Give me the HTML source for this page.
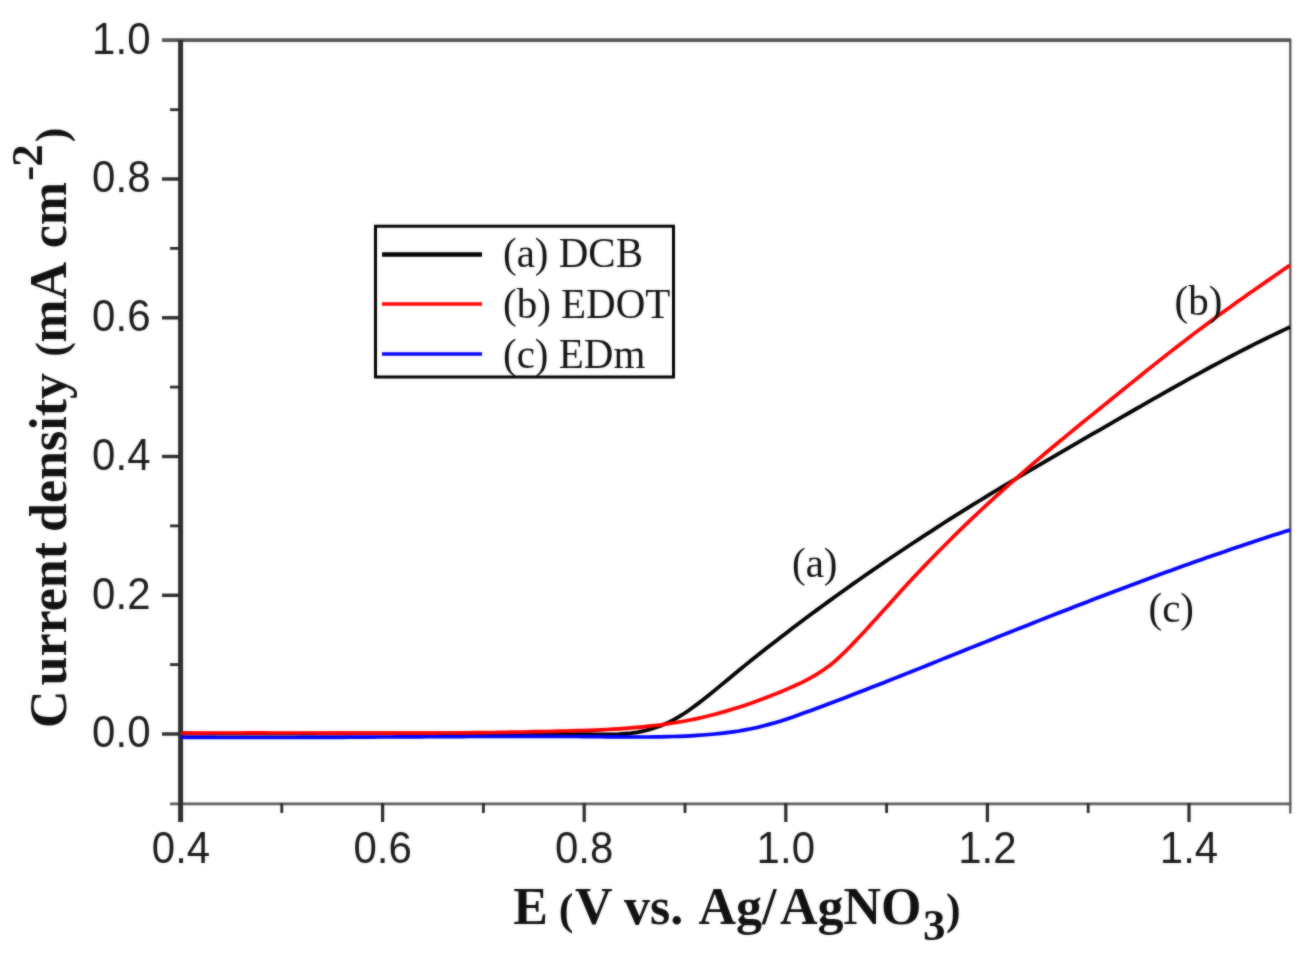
<!DOCTYPE html>
<html lang="en"><head><meta charset="utf-8"><title>Linear sweep voltammetry</title>
<style>
html,body{margin:0;padding:0;background:#fff;}
body{width:1310px;height:956px;overflow:hidden;}
svg{display:block;}
.tick{font-family:"Liberation Sans",Arial,sans-serif;font-size:42px;fill:#1a1a1a;}
.ser{font-family:"Liberation Serif","Times New Roman",serif;font-size:41px;fill:#111;}
.ax{font-family:"Liberation Serif","Times New Roman",serif;font-weight:bold;font-size:52px;fill:#111;}
</style></head><body>
<svg width="1310" height="956" viewBox="0 0 1310 956">
<defs><filter id="soft" x="0" y="0" width="1310" height="956" filterUnits="userSpaceOnUse" color-interpolation-filters="sRGB"><feGaussianBlur stdDeviation="0.9" result="b"/><feComposite in="SourceGraphic" in2="b" operator="arithmetic" k1="0" k2="0.5" k3="0.5" k4="0"/></filter></defs>
<g filter="url(#soft)">
<rect width="1310" height="956" fill="#fff"/>

<g stroke-linecap="butt" fill="none">
<line x1="162" y1="40.2" x2="1291" y2="40.2" stroke="#555" stroke-width="3.8"/>
<line x1="1290.3" y1="39" x2="1290.3" y2="813.5" stroke="#555" stroke-width="2.3"/>
<line x1="170" y1="803.8" x2="1291.4" y2="803.8" stroke="#5c5c5c" stroke-width="2.8"/>
<line x1="180.6" y1="40" x2="180.6" y2="822" stroke="#2e2e2e" stroke-width="5"/>
<line x1="162" y1="734.0" x2="180" y2="734.0" stroke="#2a2a2a" stroke-width="3.4"/>
<line x1="162" y1="595.3" x2="180" y2="595.3" stroke="#2a2a2a" stroke-width="3.4"/>
<line x1="162" y1="456.5" x2="180" y2="456.5" stroke="#2a2a2a" stroke-width="3.4"/>
<line x1="162" y1="317.8" x2="180" y2="317.8" stroke="#2a2a2a" stroke-width="3.4"/>
<line x1="162" y1="179.0" x2="180" y2="179.0" stroke="#2a2a2a" stroke-width="3.4"/>
<line x1="170" y1="664.6" x2="180" y2="664.6" stroke="#2a2a2a" stroke-width="2.8"/>
<line x1="170" y1="525.9" x2="180" y2="525.9" stroke="#2a2a2a" stroke-width="2.8"/>
<line x1="170" y1="387.1" x2="180" y2="387.1" stroke="#2a2a2a" stroke-width="2.8"/>
<line x1="170" y1="248.4" x2="180" y2="248.4" stroke="#2a2a2a" stroke-width="2.8"/>
<line x1="170" y1="109.7" x2="180" y2="109.7" stroke="#2a2a2a" stroke-width="2.8"/>
<line x1="382.6" y1="803" x2="382.6" y2="822" stroke="#2a2a2a" stroke-width="3.2"/>
<line x1="584.2" y1="803" x2="584.2" y2="822" stroke="#2a2a2a" stroke-width="3.2"/>
<line x1="785.8" y1="803" x2="785.8" y2="822" stroke="#2a2a2a" stroke-width="3.2"/>
<line x1="987.4" y1="803" x2="987.4" y2="822" stroke="#2a2a2a" stroke-width="3.2"/>
<line x1="1189.0" y1="803" x2="1189.0" y2="822" stroke="#2a2a2a" stroke-width="3.2"/>
<line x1="281.8" y1="803" x2="281.8" y2="813" stroke="#2a2a2a" stroke-width="2.8"/>
<line x1="483.4" y1="803" x2="483.4" y2="813" stroke="#2a2a2a" stroke-width="2.8"/>
<line x1="685.0" y1="803" x2="685.0" y2="813" stroke="#2a2a2a" stroke-width="2.8"/>
<line x1="886.6" y1="803" x2="886.6" y2="813" stroke="#2a2a2a" stroke-width="2.8"/>
<line x1="1088.2" y1="803" x2="1088.2" y2="813" stroke="#2a2a2a" stroke-width="2.8"/>
</g>
<g fill="none" stroke-linejoin="round" stroke-linecap="butt">
<path d="M181.0,733.5 L187.0,733.5 L193.0,733.6 L199.0,733.6 L205.0,733.6 L211.0,733.6 L217.0,733.7 L223.0,733.7 L229.0,733.7 L235.0,733.7 L241.0,733.7 L247.0,733.7 L253.0,733.7 L259.0,733.7 L265.0,733.7 L271.0,733.7 L277.0,733.7 L283.0,733.7 L289.0,733.7 L295.0,733.6 L301.0,733.6 L307.0,733.6 L313.0,733.6 L319.0,733.6 L325.0,733.6 L331.0,733.5 L337.0,733.5 L343.0,733.5 L349.0,733.5 L355.0,733.4 L361.0,733.4 L367.0,733.4 L373.0,733.4 L379.0,733.4 L385.0,733.4 L391.0,733.3 L397.0,733.3 L403.0,733.3 L409.0,733.3 L415.0,733.3 L421.0,733.3 L427.0,733.3 L433.0,733.3 L439.0,733.3 L445.0,733.3 L451.0,733.3 L457.0,733.3 L463.0,733.3 L469.0,733.3 L475.0,733.3 L481.0,733.4 L487.0,733.4 L493.0,733.4 L499.0,733.4 L505.0,733.5 L511.0,733.5 L517.0,733.6 L523.0,733.6 L529.0,733.7 L535.0,733.7 L541.0,733.8 L547.0,733.8 L553.0,733.9 L559.0,734.0 L565.0,734.0 L571.0,734.1 L577.0,734.1 L583.0,734.2 L589.0,734.2 L595.0,734.3 L601.0,734.3 L607.0,734.3 L613.0,734.3 L619.0,734.1 L625.0,733.7 L631.0,733.2 L637.0,732.3 L643.0,731.1 L649.0,729.7 L655.0,727.8 L661.0,725.7 L667.0,723.1 L673.0,720.1 L679.0,716.7 L685.0,713.0 L691.0,708.8 L697.0,704.4 L703.0,699.8 L709.0,695.0 L715.0,690.1 L721.0,685.1 L727.0,680.2 L733.0,675.2 L739.0,670.3 L745.0,665.4 L751.0,660.6 L757.0,655.8 L763.0,651.1 L769.0,646.3 L775.0,641.7 L781.0,637.0 L787.0,632.4 L793.0,627.8 L799.0,623.3 L805.0,618.8 L811.0,614.3 L817.0,609.9 L823.0,605.5 L829.0,601.1 L835.0,596.8 L841.0,592.5 L847.0,588.2 L853.0,583.9 L859.0,579.7 L865.0,575.5 L871.0,571.4 L877.0,567.2 L883.0,563.1 L889.0,559.0 L895.0,555.0 L901.0,551.0 L907.0,547.0 L913.0,543.0 L919.0,539.1 L925.0,535.2 L931.0,531.3 L937.0,527.4 L943.0,523.5 L949.0,519.7 L955.0,515.9 L961.0,512.2 L967.0,508.4 L973.0,504.7 L979.0,501.0 L985.0,497.3 L991.0,493.7 L997.0,490.0 L1003.0,486.4 L1009.0,482.8 L1015.0,479.3 L1021.0,475.7 L1027.0,472.1 L1033.0,468.6 L1039.0,465.1 L1045.0,461.6 L1051.0,458.1 L1057.0,454.6 L1063.0,451.1 L1069.0,447.6 L1075.0,444.2 L1081.0,440.7 L1087.0,437.2 L1093.0,433.7 L1099.0,430.3 L1105.0,426.8 L1111.0,423.3 L1117.0,419.9 L1123.0,416.4 L1129.0,413.0 L1135.0,409.5 L1141.0,406.1 L1147.0,402.6 L1153.0,399.2 L1159.0,395.8 L1165.0,392.4 L1171.0,389.0 L1177.0,385.6 L1183.0,382.3 L1189.0,378.9 L1195.0,375.6 L1201.0,372.3 L1207.0,369.0 L1213.0,365.8 L1219.0,362.6 L1225.0,359.4 L1231.0,356.2 L1237.0,353.1 L1243.0,350.0 L1249.0,347.0 L1255.0,343.9 L1261.0,341.0 L1267.0,338.0 L1273.0,335.1 L1279.0,332.2 L1285.0,329.4 L1290.0,327.1" stroke="#000" stroke-width="3.8"/>
<path d="M181.0,737.2 L187.0,737.3 L193.0,737.3 L199.0,737.4 L205.0,737.4 L211.0,737.4 L217.0,737.5 L223.0,737.5 L229.0,737.5 L235.0,737.5 L241.0,737.5 L247.0,737.5 L253.0,737.5 L259.0,737.5 L265.0,737.5 L271.0,737.5 L277.0,737.5 L283.0,737.5 L289.0,737.5 L295.0,737.5 L301.0,737.4 L307.0,737.4 L313.0,737.4 L319.0,737.4 L325.0,737.3 L331.0,737.3 L337.0,737.3 L343.0,737.3 L349.0,737.2 L355.0,737.2 L361.0,737.2 L367.0,737.1 L373.0,737.1 L379.0,737.0 L385.0,737.0 L391.0,737.0 L397.0,736.9 L403.0,736.9 L409.0,736.9 L415.0,736.8 L421.0,736.8 L427.0,736.7 L433.0,736.7 L439.0,736.7 L445.0,736.6 L451.0,736.6 L457.0,736.6 L463.0,736.6 L469.0,736.5 L475.0,736.5 L481.0,736.5 L487.0,736.5 L493.0,736.4 L499.0,736.4 L505.0,736.4 L511.0,736.4 L517.0,736.4 L523.0,736.4 L529.0,736.4 L535.0,736.4 L541.0,736.4 L547.0,736.4 L553.0,736.4 L559.0,736.5 L565.0,736.5 L571.0,736.5 L577.0,736.5 L583.0,736.6 L589.0,736.6 L595.0,736.7 L601.0,736.7 L607.0,736.8 L613.0,736.8 L619.0,736.9 L625.0,736.9 L631.0,737.0 L637.0,737.0 L643.0,737.0 L649.0,737.0 L655.0,736.9 L661.0,736.8 L667.0,736.7 L673.0,736.5 L679.0,736.3 L685.0,736.1 L691.0,735.8 L697.0,735.4 L703.0,735.0 L709.0,734.5 L715.0,734.0 L721.0,733.4 L727.0,732.7 L733.0,731.9 L739.0,731.0 L745.0,729.9 L751.0,728.8 L757.0,727.5 L763.0,726.0 L769.0,724.4 L775.0,722.7 L781.0,720.9 L787.0,718.9 L793.0,716.9 L799.0,714.8 L805.0,712.6 L811.0,710.4 L817.0,708.2 L823.0,706.0 L829.0,703.7 L835.0,701.5 L841.0,699.2 L847.0,696.9 L853.0,694.6 L859.0,692.2 L865.0,689.9 L871.0,687.6 L877.0,685.2 L883.0,682.9 L889.0,680.5 L895.0,678.1 L901.0,675.8 L907.0,673.4 L913.0,671.0 L919.0,668.6 L925.0,666.2 L931.0,663.8 L937.0,661.4 L943.0,658.9 L949.0,656.5 L955.0,654.1 L961.0,651.7 L967.0,649.3 L973.0,646.9 L979.0,644.5 L985.0,642.1 L991.0,639.7 L997.0,637.3 L1003.0,634.9 L1009.0,632.5 L1015.0,630.1 L1021.0,627.7 L1027.0,625.4 L1033.0,623.0 L1039.0,620.6 L1045.0,618.3 L1051.0,615.9 L1057.0,613.6 L1063.0,611.2 L1069.0,608.9 L1075.0,606.6 L1081.0,604.2 L1087.0,601.9 L1093.0,599.6 L1099.0,597.3 L1105.0,595.0 L1111.0,592.7 L1117.0,590.5 L1123.0,588.2 L1129.0,586.0 L1135.0,583.7 L1141.0,581.5 L1147.0,579.2 L1153.0,577.0 L1159.0,574.8 L1165.0,572.6 L1171.0,570.5 L1177.0,568.3 L1183.0,566.1 L1189.0,564.0 L1195.0,561.8 L1201.0,559.7 L1207.0,557.6 L1213.0,555.5 L1219.0,553.4 L1225.0,551.4 L1231.0,549.3 L1237.0,547.3 L1243.0,545.2 L1249.0,543.2 L1255.0,541.2 L1261.0,539.2 L1267.0,537.3 L1273.0,535.3 L1279.0,533.4 L1285.0,531.5 L1290.0,529.9" stroke="#0000ff" stroke-width="3.7"/>
<path d="M181.0,733.2 L187.0,733.2 L193.0,733.1 L199.0,733.1 L205.0,733.1 L211.0,733.0 L217.0,733.0 L223.0,733.0 L229.0,733.0 L235.0,733.0 L241.0,733.0 L247.0,732.9 L253.0,732.9 L259.0,732.9 L265.0,732.9 L271.0,733.0 L277.0,733.0 L283.0,733.0 L289.0,733.0 L295.0,733.0 L301.0,733.0 L307.0,733.0 L313.0,733.0 L319.0,733.1 L325.0,733.1 L331.0,733.1 L337.0,733.1 L343.0,733.1 L349.0,733.1 L355.0,733.1 L361.0,733.1 L367.0,733.2 L373.0,733.2 L379.0,733.2 L385.0,733.2 L391.0,733.2 L397.0,733.2 L403.0,733.2 L409.0,733.1 L415.0,733.1 L421.0,733.1 L427.0,733.1 L433.0,733.1 L439.0,733.0 L445.0,733.0 L451.0,733.0 L457.0,732.9 L463.0,732.9 L469.0,732.8 L475.0,732.7 L481.0,732.7 L487.0,732.6 L493.0,732.5 L499.0,732.4 L505.0,732.3 L511.0,732.2 L517.0,732.1 L523.0,732.0 L529.0,731.9 L535.0,731.7 L541.0,731.6 L547.0,731.5 L553.0,731.3 L559.0,731.2 L565.0,731.0 L571.0,730.9 L577.0,730.7 L583.0,730.5 L589.0,730.3 L595.0,730.1 L601.0,729.8 L607.0,729.5 L613.0,729.2 L619.0,728.8 L625.0,728.4 L631.0,727.9 L637.0,727.4 L643.0,726.8 L649.0,726.2 L655.0,725.5 L661.0,724.8 L667.0,723.9 L673.0,723.0 L679.0,722.0 L685.0,721.0 L691.0,719.8 L697.0,718.6 L703.0,717.2 L709.0,715.8 L715.0,714.2 L721.0,712.6 L727.0,710.9 L733.0,709.1 L739.0,707.2 L745.0,705.2 L751.0,703.2 L757.0,701.0 L763.0,698.8 L769.0,696.5 L775.0,694.1 L781.0,691.7 L787.0,689.1 L793.0,686.5 L799.0,683.8 L805.0,680.8 L811.0,677.6 L817.0,674.1 L823.0,670.3 L829.0,666.0 L835.0,661.1 L841.0,655.6 L847.0,649.7 L853.0,643.6 L859.0,637.3 L865.0,630.9 L871.0,624.3 L877.0,617.7 L883.0,611.1 L889.0,604.4 L895.0,597.8 L901.0,591.1 L907.0,584.6 L913.0,578.1 L919.0,571.7 L925.0,565.4 L931.0,559.2 L937.0,553.0 L943.0,547.0 L949.0,541.0 L955.0,535.0 L961.0,529.2 L967.0,523.4 L973.0,517.7 L979.0,512.0 L985.0,506.4 L991.0,500.9 L997.0,495.4 L1003.0,490.0 L1009.0,484.6 L1015.0,479.3 L1021.0,474.1 L1027.0,468.9 L1033.0,463.7 L1039.0,458.6 L1045.0,453.5 L1051.0,448.5 L1057.0,443.5 L1063.0,438.6 L1069.0,433.6 L1075.0,428.7 L1081.0,423.8 L1087.0,418.9 L1093.0,414.1 L1099.0,409.2 L1105.0,404.4 L1111.0,399.5 L1117.0,394.6 L1123.0,389.8 L1129.0,384.9 L1135.0,380.1 L1141.0,375.3 L1147.0,370.4 L1153.0,365.6 L1159.0,360.9 L1165.0,356.1 L1171.0,351.4 L1177.0,346.7 L1183.0,342.1 L1189.0,337.5 L1195.0,332.9 L1201.0,328.4 L1207.0,323.9 L1213.0,319.5 L1219.0,315.1 L1225.0,310.7 L1231.0,306.4 L1237.0,302.1 L1243.0,297.9 L1249.0,293.6 L1255.0,289.4 L1261.0,285.2 L1267.0,281.1 L1273.0,276.9 L1279.0,272.8 L1285.0,268.6 L1290.0,265.2" stroke="#ff0000" stroke-width="3.7"/>
</g>
<rect x="375.5" y="226.2" width="298" height="150.8" fill="#fff" stroke="#000" stroke-width="3"/>
<line x1="382" y1="254.5" x2="482" y2="254.5" stroke="#000" stroke-width="4.6"/>
<line x1="382" y1="304" x2="482" y2="304" stroke="#ff0000" stroke-width="3.4"/>
<line x1="382" y1="354" x2="482" y2="354" stroke="#0000ff" stroke-width="3.4"/>
<text class="ser" transform="translate(503,266.5) scale(1,1.035)">(a) DCB</text>
<text class="ser" transform="translate(503,317.5) scale(1,1.035)">(b) EDOT</text>
<text class="ser" transform="translate(503,367.5) scale(1,1.035)">(c) EDm</text>
<text class="ser" transform="translate(792,576.5) scale(1,1.035)">(a)</text>
<text class="ser" transform="translate(1174.5,315) scale(1,1.035)">(b)</text>
<text class="ser" transform="translate(1148.5,622) scale(1,1.035)">(c)</text>
<text class="tick" text-anchor="end" transform="translate(150.5,747.3) scale(1,1.06)">0.0</text>
<text class="tick" text-anchor="end" transform="translate(150.5,608.6) scale(1,1.06)">0.2</text>
<text class="tick" text-anchor="end" transform="translate(150.5,469.8) scale(1,1.06)">0.4</text>
<text class="tick" text-anchor="end" transform="translate(150.5,331.1) scale(1,1.06)">0.6</text>
<text class="tick" text-anchor="end" transform="translate(150.5,192.3) scale(1,1.06)">0.8</text>
<text class="tick" text-anchor="end" transform="translate(150.5,53.6) scale(1,1.06)">1.0</text>
<text class="tick" text-anchor="middle" transform="translate(181.0,862.8) scale(1,1.06)">0.4</text>
<text class="tick" text-anchor="middle" transform="translate(382.6,862.8) scale(1,1.06)">0.6</text>
<text class="tick" text-anchor="middle" transform="translate(584.2,862.8) scale(1,1.06)">0.8</text>
<text class="tick" text-anchor="middle" transform="translate(785.8,862.8) scale(1,1.06)">1.0</text>
<text class="tick" text-anchor="middle" transform="translate(987.4,862.8) scale(1,1.06)">1.2</text>
<text class="tick" text-anchor="middle" transform="translate(1189.0,862.8) scale(1,1.06)">1.4</text>
<text class="ax" x="513.2" y="923.5"><tspan>E</tspan><tspan dx="-3.2"> </tspan><tspan font-size="44" dx="1">(</tspan><tspan dx="1.65">V</tspan><tspan dx="-0.5"> vs.</tspan><tspan dx="5"> Ag/</tspan><tspan dx="3.5">AgNO</tspan><tspan font-size="45" dx="1.5" dy="16">3</tspan><tspan font-size="44" dx="0.5" dy="-16">)</tspan></text>
<text class="ax" transform="translate(65.5,728) rotate(-90)" x="0" y="0"><tspan dx="0 5">Current</tspan><tspan dx="-3"> density </tspan><tspan font-size="44" dx="3.4">(</tspan><tspan dx="-0.75">mA</tspan><tspan dx="3.5"> cm</tspan><tspan font-size="45" dx="1 -1" dy="-24">-2</tspan><tspan font-size="44" dx="2" dy="24">)</tspan></text>
</g>
</svg>
</body></html>
